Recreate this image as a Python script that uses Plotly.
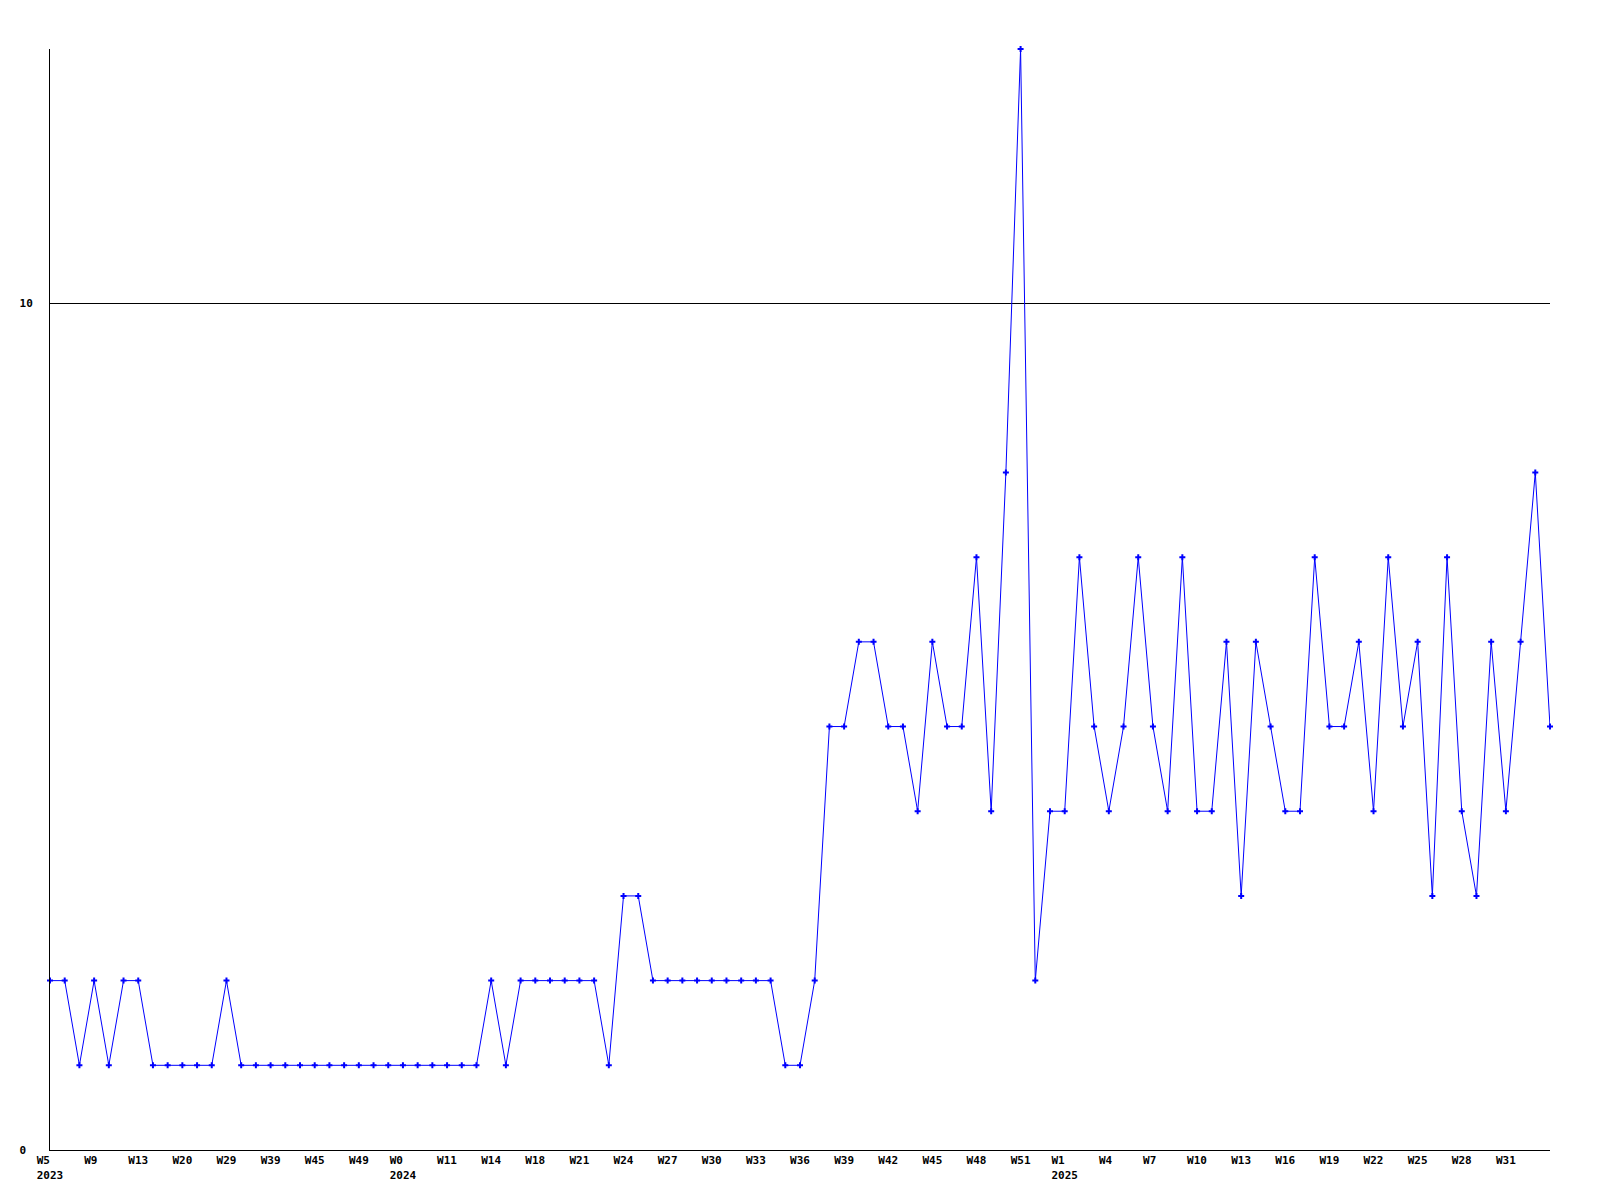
import plotly.graph_objects as go

# Week categories (year, week) in order of the series
years = (["2023"] * 24) + (["2024"] * 44) + (["2025"] * 35)
weeks = [
    "W5", "W6", "W8", "W9", "W10", "W12", "W13", "W15", "W17", "W20", "W23", "W26",
    "W29", "W33", "W36", "W39", "W41", "W43", "W45", "W46", "W48", "W49", "W50", "W51",
    "W0", "W4", "W8", "W11", "W12", "W13", "W14", "W15", "W17", "W18", "W19", "W20",
    "W21", "W22", "W23", "W24", "W25", "W26", "W27", "W28", "W29", "W30", "W31", "W32",
    "W33", "W34", "W35", "W36", "W37", "W38", "W39", "W40", "W41", "W42", "W43", "W44",
    "W45", "W46", "W47", "W48", "W49", "W50", "W51", "W52",
    "W0", "W1", "W2", "W3", "W4", "W5", "W6", "W7", "W8", "W9", "W10", "W11",
    "W12", "W13", "W14", "W15", "W16", "W17", "W18", "W19", "W20", "W21", "W22", "W23",
    "W24", "W25", "W26", "W27", "W28", "W29", "W30", "W31", "W32", "W33", "W34",
]
values = [
    2, 2, 1, 2, 1, 2, 2, 1, 1, 1, 1, 1, 2, 1, 1, 1, 1, 1, 1, 1, 1, 1, 1, 1,
    1, 1, 1, 1, 1, 1, 2, 1, 2, 2, 2, 2, 2, 2, 1, 3, 3, 2, 2, 2, 2, 2, 2, 2,
    2, 2, 1, 1, 2, 5, 5, 6, 6, 5, 5, 4, 6, 5, 5, 7, 4, 8, 13, 2,
    4, 4, 7, 5, 4, 5, 7, 5, 4, 7, 4, 4, 6, 3, 6, 5, 4, 4, 7, 5, 5, 6, 4, 7,
    5, 6, 3, 7, 4, 3, 6, 4, 6, 8, 5,
]
tick_step = 3
y_ticks = [0, 10]

categories = [f"{y} {w}" for y, w in zip(years, weeks)]

NBSP = "\u00a0"


def left_pad(text, width):
    """Pad with non-breaking spaces so centred monospace text reads left-aligned."""
    return text + NBSP * max(0, width - len(text))


# Tick every 3rd week; the final category gets no label (as in the original)
tickvals, ticktext = [], []
last_year = None
for i in range(0, len(categories) - 1, tick_step):
    tickvals.append(categories[i])
    if years[i] != last_year:
        w = max(len(weeks[i]), len(years[i]))
        ticktext.append(f"{left_pad(weeks[i], w)}<br>{left_pad(years[i], w)}")
        last_year = years[i]
    else:
        ticktext.append(left_pad(weeks[i], 3))

y_width = max(len(str(t)) for t in y_ticks)
y_ticktext = [left_pad(str(t), y_width) for t in y_ticks]

font = dict(family="DejaVu Sans Mono", size=11, color="black", weight="bold")

fig = go.Figure(
    go.Scatter(
        x=categories,
        y=values,
        mode="lines+markers",
        line=dict(color="#0000ff", width=1),
        marker=dict(symbol="cross", size=5, color="#0000ff"),
        cliponaxis=False,
    )
)
fig.update_layout(
    width=1592,
    height=1192,
    margin=dict(l=42, r=50, t=41, b=50),
    paper_bgcolor="white",
    plot_bgcolor="white",
    showlegend=False,
    font=font,
)
fig.update_xaxes(
    type="category",
    range=[0, len(categories) - 1],
    tickmode="array",
    tickvals=tickvals,
    ticktext=ticktext,
    tickfont=font,
    showgrid=False,
    showline=True,
    linecolor="black",
    linewidth=1,
    ticks="",
    zeroline=False,
)
fig.update_yaxes(
    range=[0, 13],
    tickmode="array",
    tickvals=y_ticks,
    ticktext=y_ticktext,
    tickfont=font,
    showgrid=True,
    gridcolor="black",
    gridwidth=1,
    showline=True,
    linecolor="black",
    linewidth=1,
    ticks="",
    ticklabelstandoff=14,
    zeroline=False,
)
fig.write_html("out.html")
